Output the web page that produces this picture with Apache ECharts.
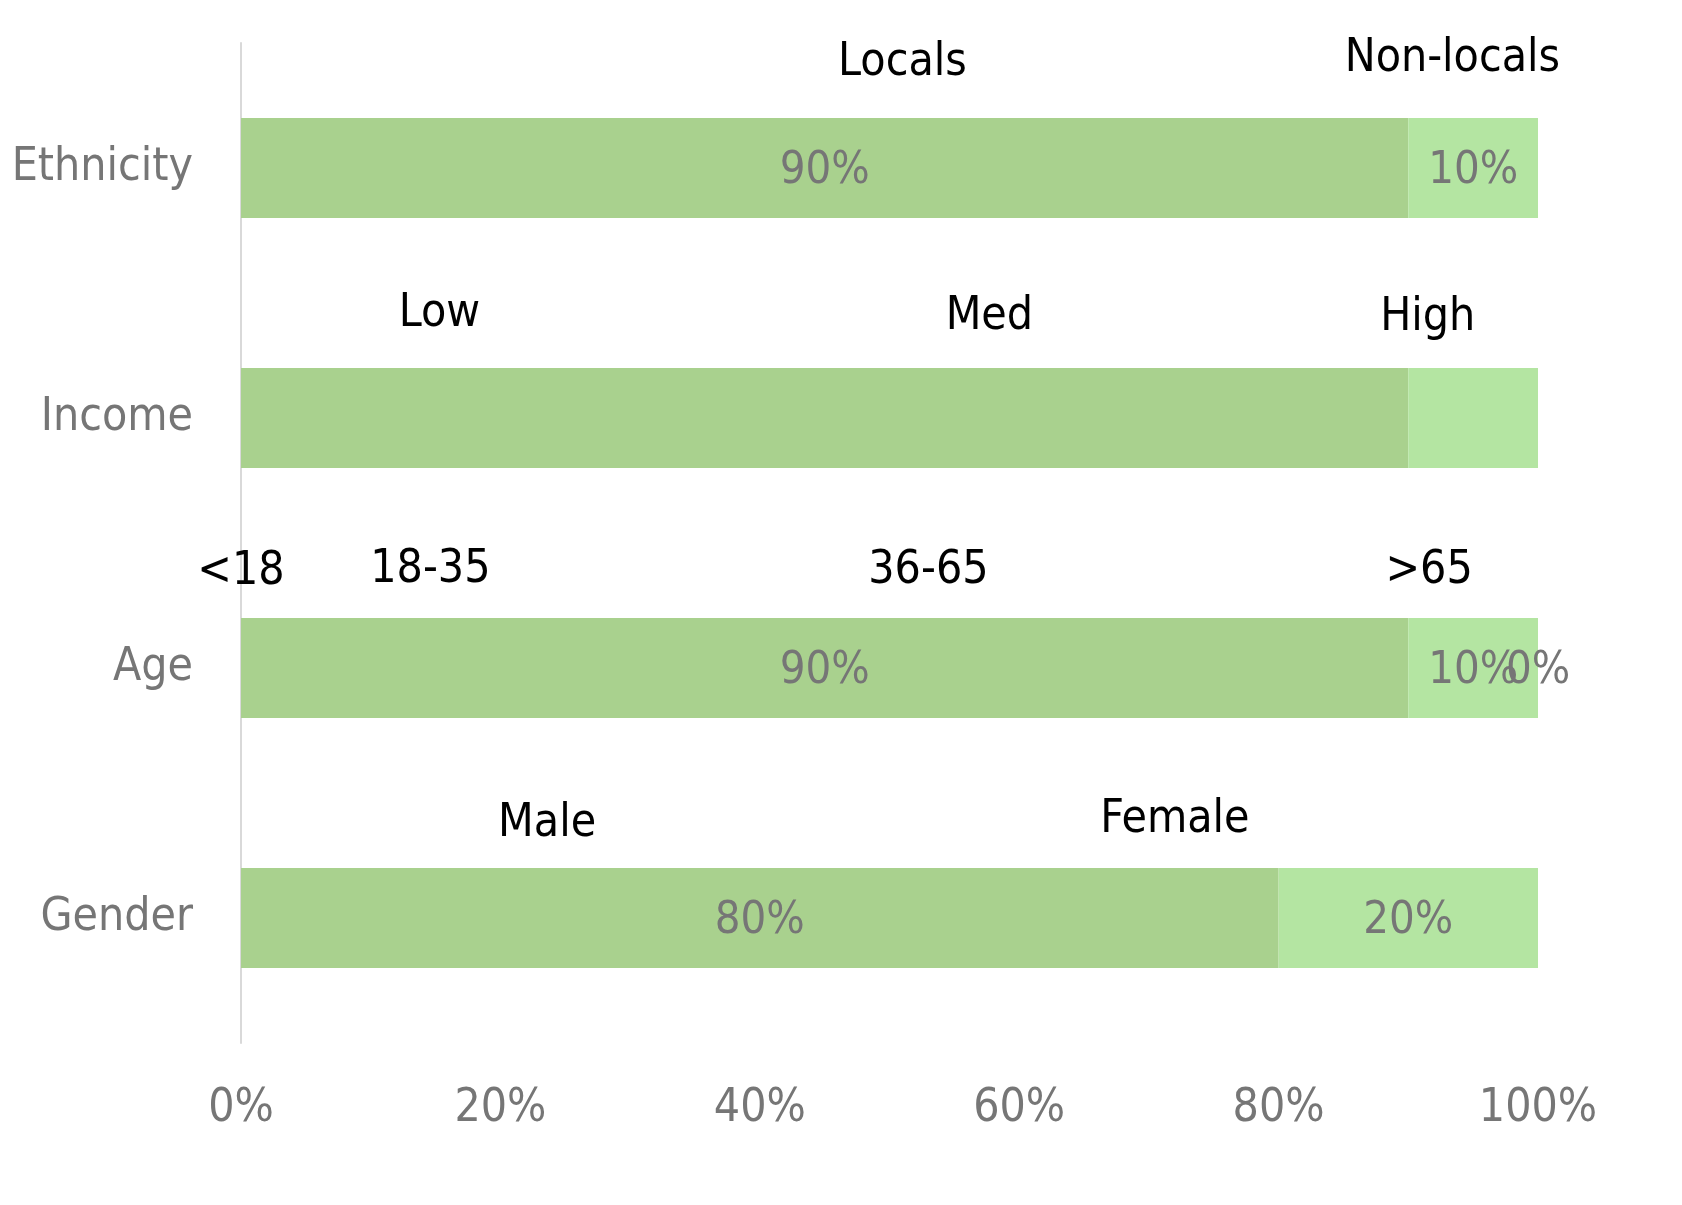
<!DOCTYPE html>
<html>
<head>
<meta charset="utf-8">
<script src="https://cdn.jsdelivr.net/npm/echarts@6/dist/echarts.min.js"></script>
<style>
html,body{margin:0;padding:0;background:#fff;}
#chart{width:1682px;height:1205px;}
</style>
</head>
<body>
<div id="chart"></div>
<script>
// ---- data ----
const categories = ['Ethnicity', 'Income', 'Age', 'Gender'];
const firstShare = [90, 90, 90, 80];      // dark green segment (%)
const secondShare = [10, 10, 10, 20];     // light green segment (%)
const thirdShare = [null, null, 0, null]; // zero-width end segment (%)
const showShareLabel = [true, false, true, true];
const groupNames = [
  ['Locals', 'Non-locals'],
  ['Low', 'Med', 'High'],
  ['<18', '18-35', '36-65', '>65'],
  ['Male', 'Female']
];
// where each group name sits along the 0-100% axis
const groupNameAt = [
  [51.0, 93.4],
  [15.3, 57.7, 91.5],
  [0, 14.6, 53.0, 91.6],
  [23.6, 72.0]
];
const groupNameLift = [
  [-105, -109],
  [-104, -101, -100],
  [-96, -98, -97, -97],
  [-94, -98]
];
const xTickStep = 20;

// ---- styles ----
const FONT = "'Liberation Sans Narrow', 'DejaVu Sans Condensed', 'Roboto', sans-serif";
const GREY = '#767676';
const DARK = '#A9D18E';
const LIGHT = '#B4E5A2';

function shareData(values) {
  return values.map((v, i) => ({
    value: v,
    label: { show: showShareLabel[i] && v !== null }
  }));
}

const nameMarks = [];
groupNames.forEach((names, ci) => {
  names.forEach((n, k) => {
    nameMarks.push({
      coord: [groupNameAt[ci][k], categories[ci]],
      value: n,
      label: { offset: [0, groupNameLift[ci][k]] }
    });
  });
});

const shareLabel = {
  show: true,
  position: 'inside',
  offset: [0, 3],
  formatter: p => p.value + '%',
  color: GREY,
  fontFamily: FONT,
  fontSize: 45
};

const chart = echarts.init(document.getElementById('chart'), null, { renderer: 'canvas' });
chart.setOption({
  animation: false,
  backgroundColor: '#fff',
  grid: { left: 241, top: 43, width: 1297, height: 1000, containLabel: false },
  xAxis: {
    type: 'value',
    min: 0, max: 100, interval: xTickStep,
    axisLine: { show: false },
    axisTick: { show: false },
    splitLine: { show: false },
    axisLabel: {
      formatter: '{value}%',
      color: GREY, fontFamily: FONT, fontSize: 46, margin: 43
    }
  },
  yAxis: {
    type: 'category',
    inverse: true,
    data: categories,
    axisLine: { show: true, lineStyle: { color: '#d9d9d9', width: 2 } },
    axisTick: { show: false },
    axisLabel: { color: GREY, fontFamily: FONT, fontSize: 46, margin: 48 }
  },
  series: [
    {
      type: 'bar', stack: 'total', barWidth: 100,
      itemStyle: { color: DARK },
      label: shareLabel,
      data: shareData(firstShare),
      markPoint: {
        symbol: 'circle', symbolSize: 0,
        label: {
          show: true, position: 'inside',
          formatter: p => p.value,
          color: '#000', fontFamily: FONT, fontSize: 46
        },
        data: nameMarks
      }
    },
    {
      type: 'bar', stack: 'total', barWidth: 100,
      itemStyle: { color: LIGHT },
      label: shareLabel,
      data: shareData(secondShare)
    },
    {
      type: 'bar', stack: 'total', barWidth: 100,
      itemStyle: { color: LIGHT },
      label: shareLabel,
      data: shareData(thirdShare)
    }
  ]
});
</script>
</body>
</html>
